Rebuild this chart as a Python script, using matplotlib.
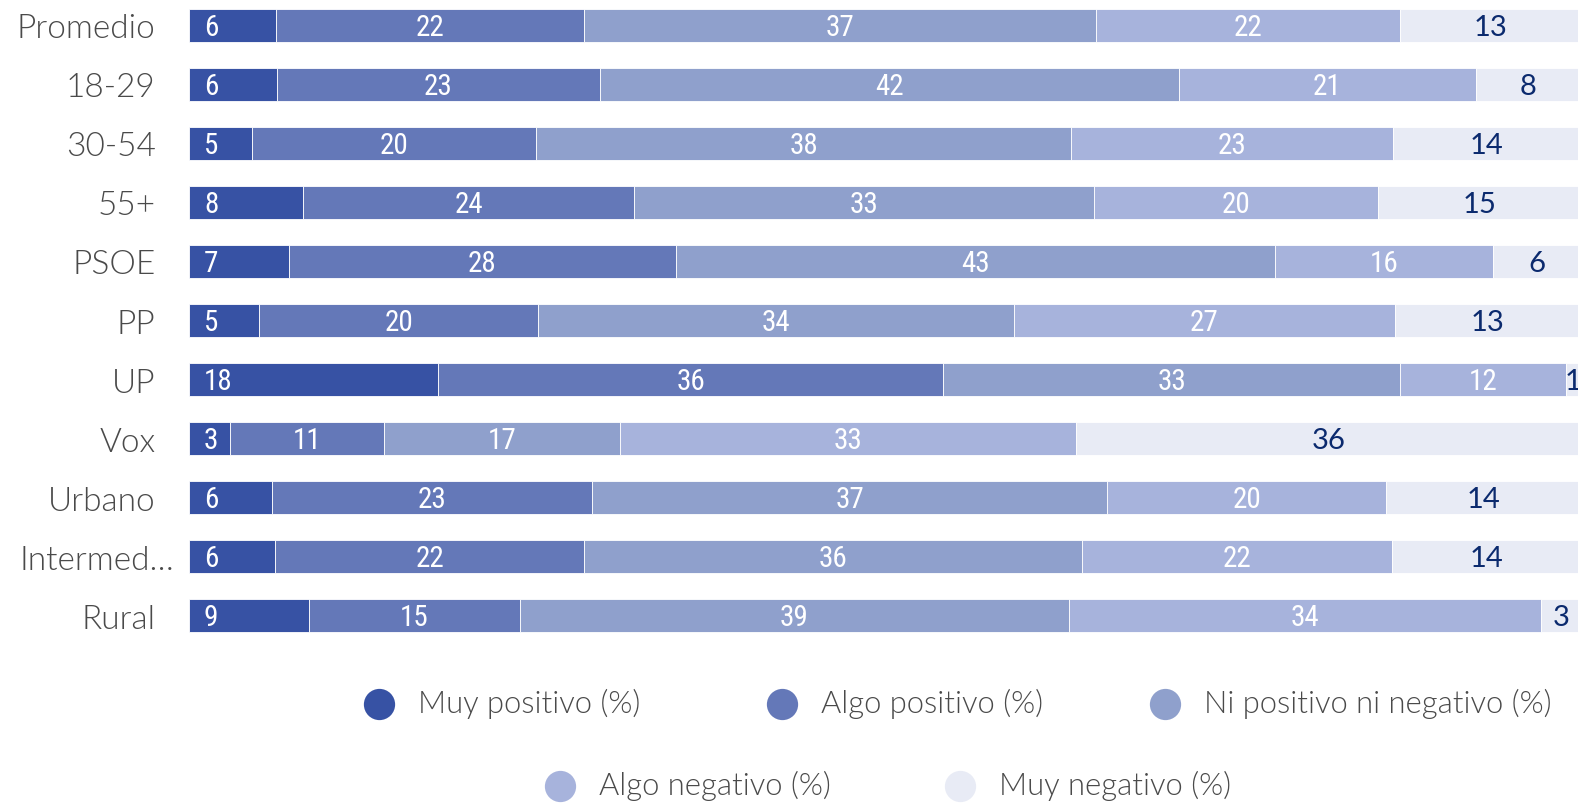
import matplotlib
matplotlib.use("Agg")
import matplotlib.pyplot as plt
from matplotlib.lines import Line2D
from matplotlib import font_manager as fm
from matplotlib.transforms import ScaledTranslation

categories = ["Promedio", "18-29", "30-54", "55+", "PSOE", "PP", "UP", "Vox",
              "Urbano", "Intermed…", "Rural"]
muy_positivo = [6.26, 6.35, 4.55, 8.21, 7.16, 5.07, 17.9, 2.98, 6.00, 6.19, 8.6]
algo_positivo = [22.12, 23.15, 20.41, 23.77, 27.83, 19.98, 36.3, 11.07, 22.96, 22.19, 15.2]
ni_ni = [36.80, 41.61, 38.40, 33.03, 43.03, 34.22, 32.8, 16.93, 37.00, 35.79, 39.4]
algo_negativo = [21.80, 21.35, 23.13, 20.41, 15.67, 27.35, 11.9, 32.74, 20.04, 22.25, 33.9]
muy_negativo = [13.02, 7.54, 13.51, 14.58, 6.31, 13.38, 1.1, 36.28, 14.00, 13.58, 2.9]

series_names = ["Muy positivo (%)", "Algo positivo (%)", "Ni positivo ni negativo (%)",
                "Algo negativo (%)", "Muy negativo (%)"]
series = [muy_positivo, algo_positivo, ni_ni, algo_negativo, muy_negativo]
colors = ["#3752A4", "#6478B8", "#8FA0CC", "#A7B3DC", "#E8EBF5"]
text_colors = ["white", "white", "white", "white", "#0B2A6E"]

# ---- font selection helpers ----
ttf = fm.fontManager.ttflist


def has_font(name, stretch=None, weight=None):
    for f in ttf:
        if f.name != name:
            continue
        if stretch is not None and str(f.stretch) not in stretch:
            continue
        if weight is not None and f.weight not in weight:
            continue
        return True
    return False


# condensed font for white labels
cond = dict(family=["DejaVu Sans"], fontstretch="normal", fontweight="normal")
for nm in ["Liberation Sans Narrow", "Roboto Condensed", "Open Sans Condensed",
           "Noto Sans Condensed"]:
    if has_font(nm):
        cond = dict(family=[nm, "DejaVu Sans"], fontstretch="normal", fontweight="normal")
        break
else:
    if has_font("DejaVu Sans", stretch=("condensed", "semi-condensed", "87.5", "75", "semi-expanded")):
        cond = dict(family=["DejaVu Sans"], fontstretch="condensed", fontweight="light"
                    if has_font("DejaVu Sans", stretch=("condensed",), weight=(200, 300, "light", "extra-light")) else "normal")
    elif has_font("Roboto"):
        cond = dict(family=["Roboto", "DejaVu Sans"], fontstretch="normal",
                    fontweight="light" if has_font("Roboto", weight=(300, "light")) else "normal")

# light font for category / legend labels
label_font = dict(family=["Lato", "DejaVu Sans"], fontweight="normal")
if has_font("Lato", weight=(300, "light")):
    label_font = dict(family=["Lato", "DejaVu Sans"], fontweight=300)

W, H = 1578, 804
fig = plt.figure(figsize=(W / 100, H / 100), dpi=100)
ax_left, ax_right = 188.9, 1580.9
ax_top, ax_bottom = -3.2, 646.2
ax = fig.add_axes([ax_left / W, 1 - ax_bottom / H, (ax_right - ax_left) / W,
                   (ax_bottom - ax_top) / H])
ax.set_xlim(0, 100)
ax.set_ylim(10.5, -0.5)

ypos = list(range(len(categories)))
left = [0] * len(categories)
white_font = dict(fontsize=21, **cond)
dark_font = dict(family=["Lato", "DejaVu Sans"], fontweight="normal", fontsize=21)
for si, (vals, col, tcol) in enumerate(zip(series, colors, text_colors)):
    ax.barh(ypos, vals, left=left, height=0.554, color=col, edgecolor="white",
            linewidth=0.6)
    for i, v in enumerate(vals):
        lab = f"{v:.0f}"
        if si == 0:
            ax.text(left[i] + 1.08, ypos[i] + 0.03, lab, ha="left", va="center",
                    color=tcol, **white_font)
        elif si == len(series) - 1:
            cx = left[i] + v / 2
            ax.text(cx, ypos[i] + 0.03, lab, ha="center", va="center",
                    color=tcol, clip_on=False, **dark_font)
        else:
            ax.text(left[i] + v / 2, ypos[i] + 0.03, lab, ha="center",
                    va="center", color=tcol, **white_font)
    left = [l + v for l, v in zip(left, vals)]

ax.set_yticks(ypos)
ax.set_yticklabels(categories, fontsize=24, color="#4A4A4A", **label_font)
ax.tick_params(axis="y", length=0, pad=24)
ax.set_xticks([])
for s in ax.spines.values():
    s.set_visible(False)
# the truncated label overhangs to the right, as in the original
for lbl in ax.get_yticklabels():
    if lbl.get_text().endswith("…"):
        lbl.set_transform(lbl.get_transform() + ScaledTranslation(0.19, 0, fig.dpi_scale_trans))

# legend (manual, centered rows)
leg_pos = [(379, 705), (782, 705), (1165, 705), (560, 787), (960, 787)]
for (mx, my), name, col in zip(leg_pos, series_names, colors):
    fig.add_artist(Line2D([mx / W], [1 - my / H], marker="o", markersize=22.5,
                          color=col, markeredgewidth=0, transform=fig.transFigure))
    fig.text((mx + 39) / W, 1 - (my - 1) / H, name, ha="left", va="center",
             fontsize=22.3, color="#4A4A4A", **label_font)

fig.savefig("out.png", dpi=100)
